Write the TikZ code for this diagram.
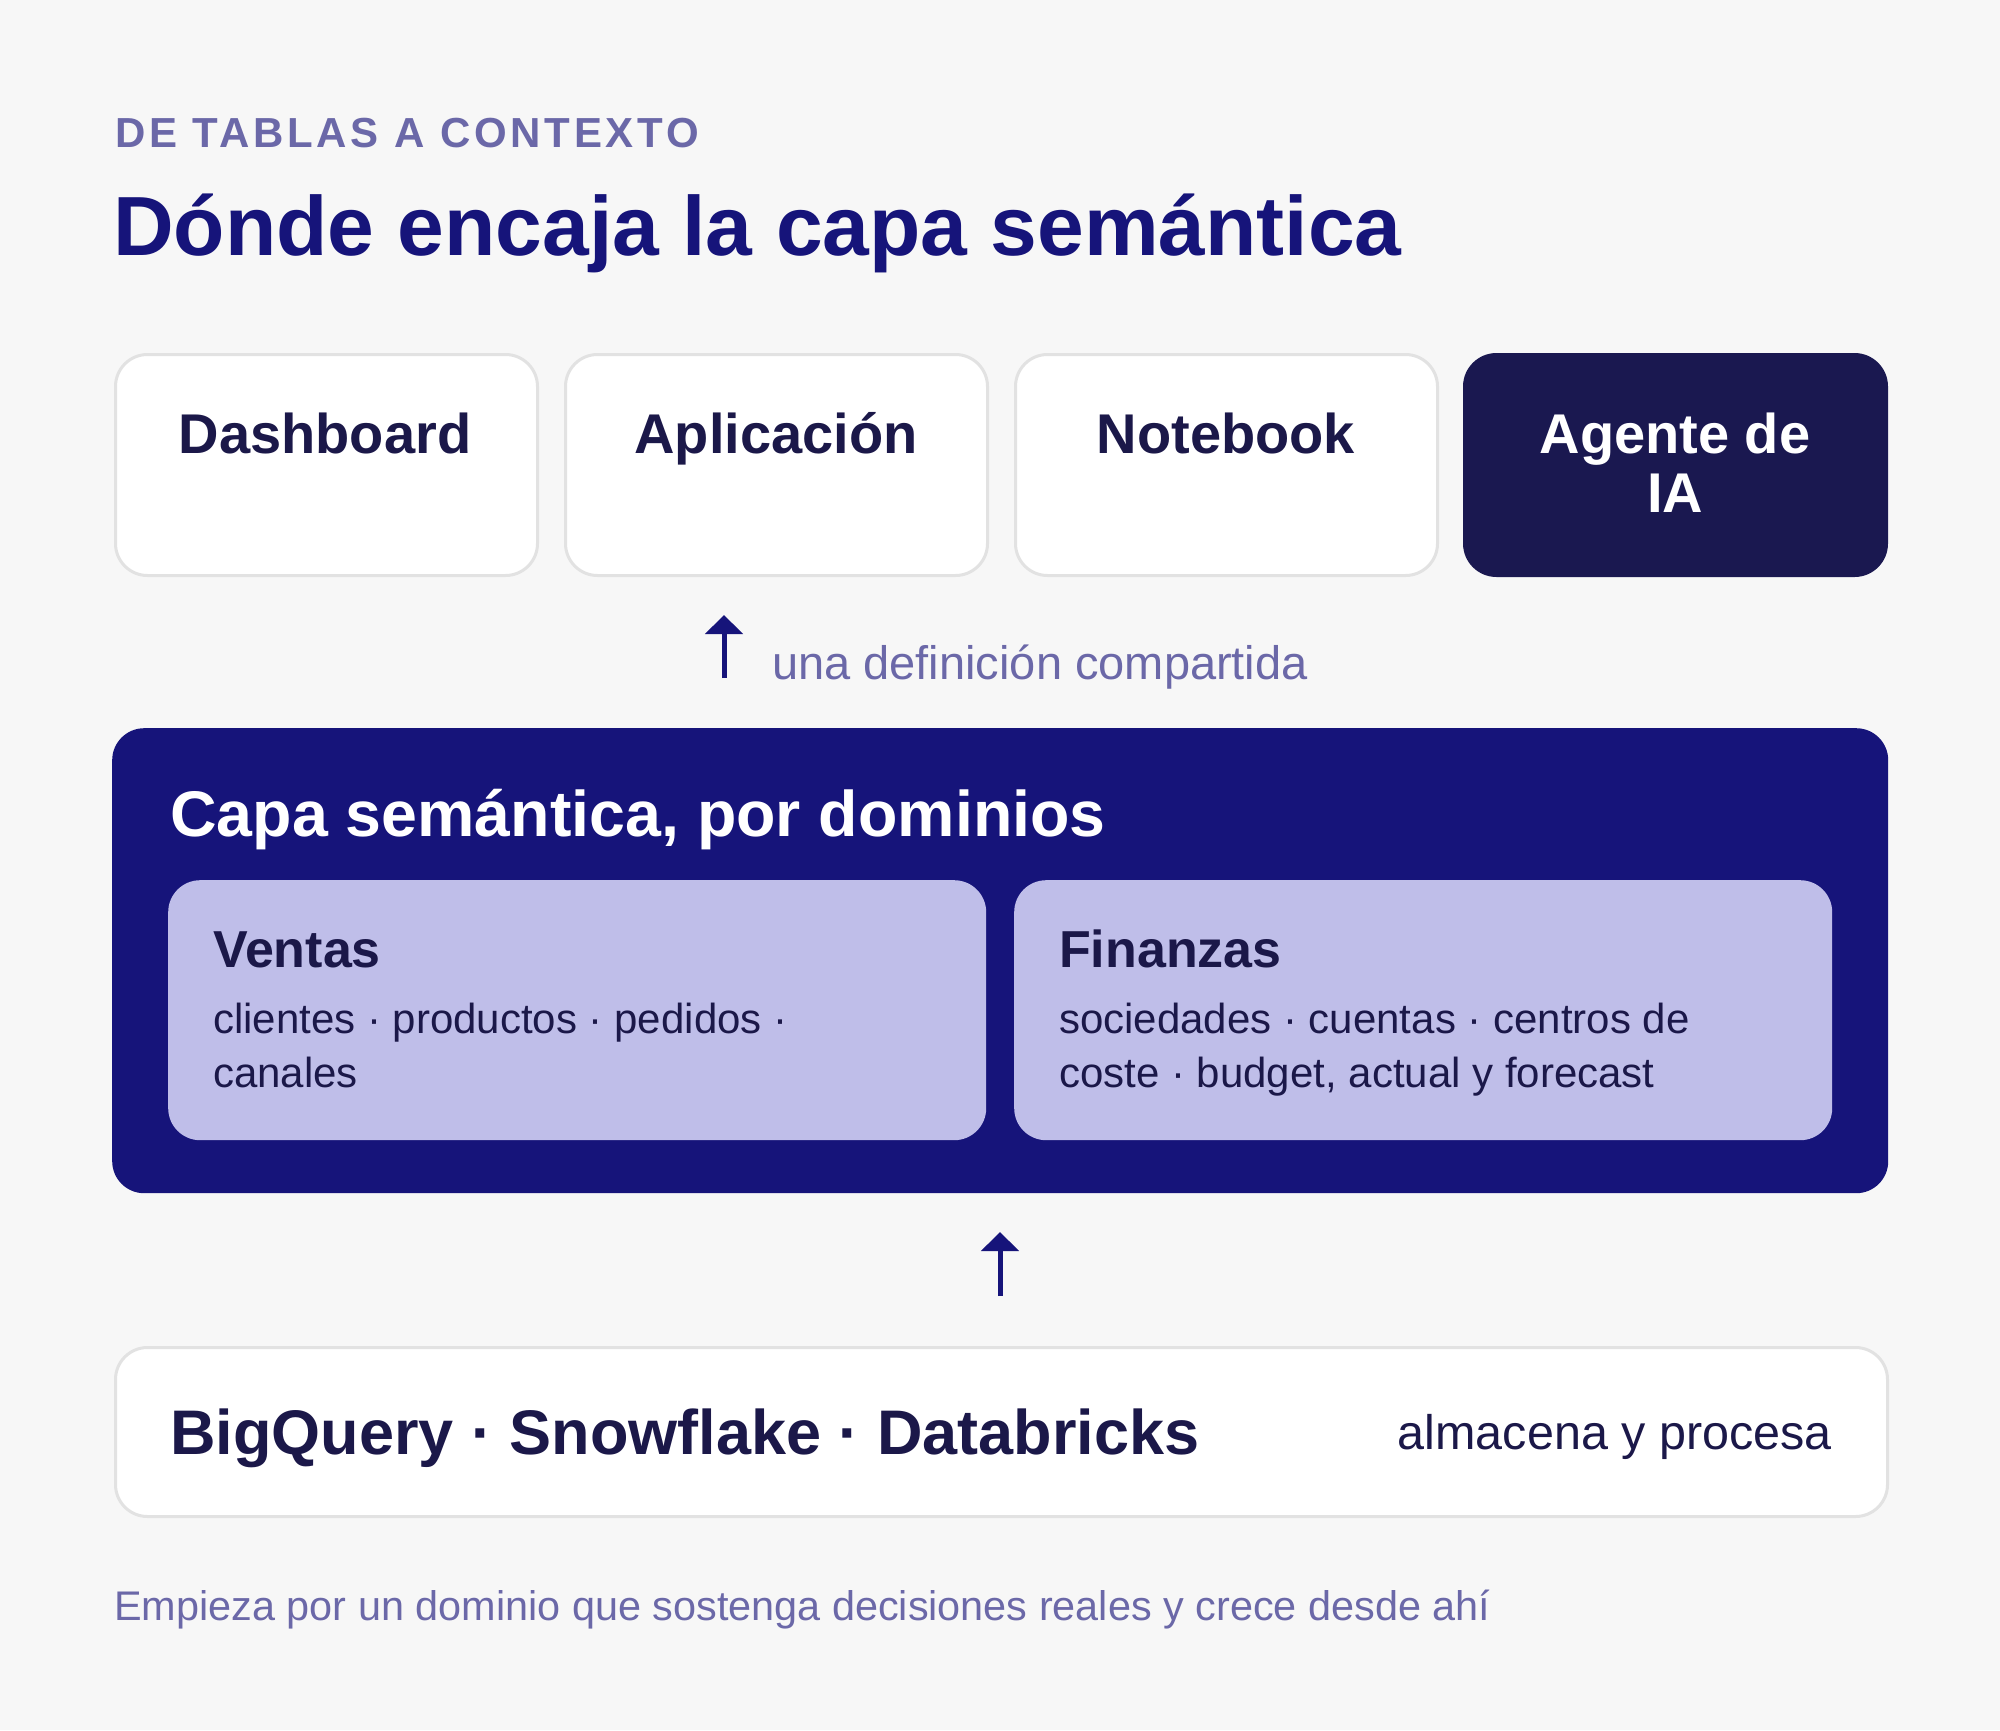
\documentclass[tikz,border=0pt]{standalone}
\usepackage{fontspec}
\setmainfont{Liberation Sans}
\newfontfamily\spacedfont[LetterSpace=9]{Liberation Sans}
\usetikzlibrary{arrows.meta}
\definecolor{pageGrey}{HTML}{F7F7F7}
\definecolor{layerNavy}{HTML}{16147A}
\definecolor{inkNavy}{HTML}{1B1849}
\definecolor{agentNavy}{HTML}{1A1850}
\definecolor{mutedViolet}{HTML}{6B68A8}
\definecolor{domainLilac}{HTML}{BFBEE9}
\definecolor{cardLine}{HTML}{E2E2E2}

\tikzset{
  card/.style={draw=cardLine, line width=3pt, fill=white, rounded corners=32pt,
    minimum width=422pt, minimum height=221pt, anchor=north west, inner sep=0pt},
  cardtext/.style={anchor=base, align=center, text=inkNavy,
    font=\fontsize{56}{59}\selectfont\bfseries},
  domainbox/.style={fill=domainLilac, rounded corners=32pt, minimum width=818pt,
    minimum height=260pt, anchor=north west, inner sep=0pt},
  domainhead/.style={anchor=base west, text=inkNavy, font=\fontsize{52}{54}\selectfont\bfseries},
  domainbody/.style={anchor=base west, align=left, text=inkNavy, font=\fontsize{42}{54}\selectfont},
  flow/.style={draw=layerNavy, line width=5pt, -{Triangle[width=37pt,length=19pt]}}
}

\begin{document}
\begin{tikzpicture}[x=1pt, y=-1pt]
  % Page
  \fill[pageGrey] (0,0) rectangle (2000,1730);
  \useasboundingbox (0,0) rectangle (2000,1730);

  % Heading
  \node[anchor=base west, inner sep=0pt, text=mutedViolet, font=\fontsize{42}{44}\spacedfont\bfseries]
    (kicker) at (115,147) {DE TABLAS A CONTEXTO};
  \node[anchor=base west, inner sep=0pt, text=layerNavy, font=\fontsize{84}{90}\selectfont\bfseries]
    (title) at (113,255) {Dónde encaja la capa semántica};

  % Consumers
  \node[card] (dashCard) at (114,353) {};
  \node[card] (appCard) at (564,353) {};
  \node[card] (noteCard) at (1014,353) {};
  \node[card, draw=agentNavy, fill=agentNavy] (agentCard) at (1463,353) {};
  \node[cardtext] (dashText) at (325,453) {Dashboard};
  \node[cardtext] (appText) at (776,453) {Aplicación};
  \node[cardtext] (noteText) at (1226,453) {Notebook};
  % base sits on the last line
  \node[cardtext, text=white] (agentText) at (1675,512) {Agente de\\IA};

  % Shared definition
  \coordinate (shareFoot) at (724,678);
  \coordinate (shareTip) at (724,615);
  \draw[flow] (shareFoot) -- (shareTip);
  \node[anchor=base west, inner sep=0pt, text=mutedViolet, font=\fontsize{47}{50}\selectfont]
    (shareText) at (772,679) {una definición compartida};

  % Semantic layer
  \node[fill=layerNavy, rounded corners=32pt, minimum width=1776pt, minimum height=465pt,
    anchor=north west, inner sep=0pt] (layerBox) at (112,728) {};
  \node[anchor=base west, inner sep=0pt, text=white, font=\fontsize{64.5}{70}\selectfont\bfseries]
    (layerTitle) at (170,836) {Capa semántica, por dominios};

  \node[domainbox] (salesBox) at (168,880) {};
  \node[domainhead, inner sep=0pt] (salesHead) at (213,967) {Ventas};
  \node[domainbody, inner sep=0pt] (salesBody) at (213,1087)
    {clientes · productos · pedidos ·\\canales};

  \node[domainbox] (financeBox) at (1014,880) {};
  \node[domainhead, inner sep=0pt] (financeHead) at (1059,967) {Finanzas};
  \node[domainbody, inner sep=0pt] (financeBody) at (1059,1087)
    {sociedades · cuentas · centros de\\coste · budget, actual y forecast};

  % Storage
  \coordinate (storeFoot) at (1000,1296);
  \coordinate (storeTip) at (1000,1232);
  \draw[flow] (storeFoot) -- (storeTip);

  \node[draw=cardLine, line width=3pt, fill=white, rounded corners=32pt, minimum width=1772pt,
    minimum height=169pt, anchor=north west, inner sep=0pt] (storeBox) at (114,1346) {};
  \node[anchor=base west, inner sep=0pt, text=inkNavy, font=\fontsize{63}{70}\selectfont\bfseries]
    (storeNames) at (170,1454) {BigQuery · Snowflake · Databricks};
  \node[anchor=base east, inner sep=0pt, text=inkNavy, font=\fontsize{48.5}{52}\selectfont]
    (storeRole) at (1832,1449) {almacena y procesa};

  % Footer
  \node[anchor=base west, inner sep=0pt, text=mutedViolet, font=\fontsize{41.4}{45}\selectfont]
    (footer) at (114,1620) {Empieza por un dominio que sostenga decisiones reales y crece desde ahí};
\end{tikzpicture}
\end{document}
